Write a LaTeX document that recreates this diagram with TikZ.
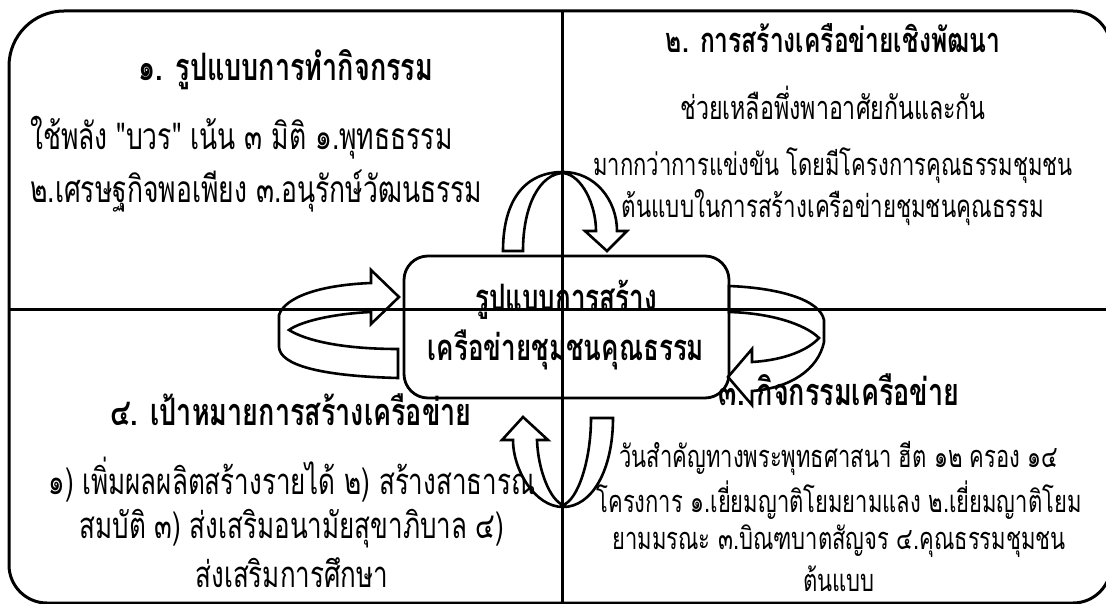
\documentclass[tikz,border=0pt]{standalone}
\usepackage{fontspec}
\usepackage{graphicx}
\newfontfamily\thai[Script=Thai]{Loma}
\newcommand{\tallt}[1]{\scalebox{1}[1.4]{#1}}
\begin{document}
\begin{tikzpicture}[x=1pt,y=-1pt,
  frameline/.style={line width=3pt},
  crossline/.style={line width=3pt},
  hubbox/.style={draw,line width=2.8pt,rounded corners=24pt,minimum width=325pt,minimum height=142pt,inner sep=0pt},
  arr/.style={draw,line width=2.6pt,line join=miter},
  ttl/.style={inner sep=0pt,font=\thai\bfseries\fontsize{#1}{#1}\selectfont},
  ttl/.default=27,
  body/.style={inner sep=0pt,font=\thai\fontsize{#1}{#1}\selectfont},
  body/.default=22]
\useasboundingbox (0,0) rectangle (1106,604);
\clip (0,0) rectangle (1106,604);
% frame
\draw[frameline] (9,565) -- (9,66) .. controls (9,35.6) and (33.6,11) .. (64,11) -- (1073,11) .. controls (1094,11) and (1111,28) .. (1111,49) -- (1111,565) .. controls (1111,586) and (1094,603) .. (1073,603) -- (47,603) .. controls (26,603) and (9,586) .. (9,565) -- cycle;
% centre box
\node[hubbox] (hub) at (566.5,327) {};
\node[ttl=26] (hubA) at (566,300) {\tallt{รูปแบบการสร้าง}};
\node[ttl=26] (hubB) at (566,350) {\tallt{เครือข่ายชุมชนคุณธรรม}};
% arrows
\draw[arr] (503,251) .. controls (503,200) and (525,172) .. (563,172) .. controls (595,172) and (617,200) .. (617,231) -- (627,231) -- (607,251) -- (585,231) -- (596,231) .. controls (596,205) and (582,175) .. (563,173) .. controls (540,174) and (523,205) .. (523,251) -- cycle;
\draw[arr] (398,378) .. controls (320,376) and (280,365) .. (279,347) -- (279,315) .. controls (285,297) and (320,285) .. (371,283) -- (371,270) -- (399,297) -- (371,324) -- (371,312) .. controls (330,314) and (300,322) .. (289,330) .. controls (305,340) and (340,349) .. (398,349) -- cycle;
\draw[arr] (729,286) .. controls (780,288) and (820,300) .. (824,320) -- (824,342) .. controls (818,370) and (790,388) .. (752,391) -- (752,405) -- (728,377) -- (752,349) -- (752,362) .. controls (785,360) and (808,350) .. (819,338) .. controls (805,324) and (770,313) .. (729,312) -- cycle;
\draw[arr] (613,418) .. controls (613,470) and (592,507) .. (563,507) .. controls (535,507) and (513,470) .. (513,440) -- (502,440) -- (523,417) -- (548,440) -- (537,440) .. controls (538,470) and (550,500) .. (563,505) .. controls (578,500) and (591,460) .. (591,418) -- cycle;
% quadrant 1
\node[ttl=27] (t1) at (286,70) {\tallt{๑. รูปแบบการทำกิจกรรม}};
\node[body=26.5,anchor=west] (b1a) at (30,138) {\tallt{ใช้พลัง "บวร" เน้น ๓ มิติ ๑.พุทธธรรม}};
\node[body=26.5,anchor=west] (b1b) at (30,191) {\tallt{๒.เศรษฐกิจพอเพียง ๓.อนุรักษ์วัฒนธรรม}};
% quadrant 2
\node[ttl=24.6] (t2) at (833,38) {\tallt{๒. การสร้างเครือข่ายเชิงพัฒนา}};
\node[body=23.2] (b2a) at (833,103) {\tallt{ช่วยเหลือพึ่งพาอาศัยกันและกัน}};
\node[body=22] (b2b) at (833,166) {\tallt{มากกว่าการแข่งขัน โดยมีโครงการคุณธรรมชุมชน}};
\node[body=22.3] (b2c) at (833,208) {\tallt{ต้นแบบในการสร้างเครือข่ายชุมชนคุณธรรม}};
% quadrant 3
\node[ttl=27] (t3) at (839,390) {\tallt{๓. กิจกรรมเครือข่าย}};
\node[body=22] (b3a) at (839,458) {\tallt{วันสำคัญทางพระพุทธศาสนา ฮีต ๑๒ ครอง ๑๔}};
\node[body=22] (b3b) at (839,500) {\tallt{โครงการ ๑.เยี่ยมญาติโยมยามแลง ๒.เยี่ยมญาติโยม}};
\node[body=22] (b3c) at (839,541) {\tallt{ยามมรณะ ๓.บิณฑบาตสัญจร ๔.คุณธรรมชุมชน}};
\node[body=22] (b3d) at (839,579) {\tallt{ต้นแบบ}};
% quadrant 4
\node[ttl=27] (t4) at (291,410) {\tallt{๔. เป้าหมายการสร้างเครือข่าย}};
\node[body=26] (b4a) at (292,480) {\tallt{๑) เพิ่มผลผลิตสร้างรายได้ ๒) สร้างสาธารณ}};
\node[body=26] (b4b) at (292,529) {\tallt{สมบัติ ๓) ส่งเสริมอนามัยสุขาภิบาล ๔)}};
\node[body=26] (b4c) at (292,573) {\tallt{ส่งเสริมการศึกษา}};
% cross lines
\coordinate (vt) at (562,11);
\coordinate (vb) at (562,604);
\coordinate (hl) at (9,309);
\coordinate (hr) at (1106,309);
\draw[crossline] (vt) -- (vb);
\draw[crossline] (hl) -- (hr);
\end{tikzpicture}
\end{document}
